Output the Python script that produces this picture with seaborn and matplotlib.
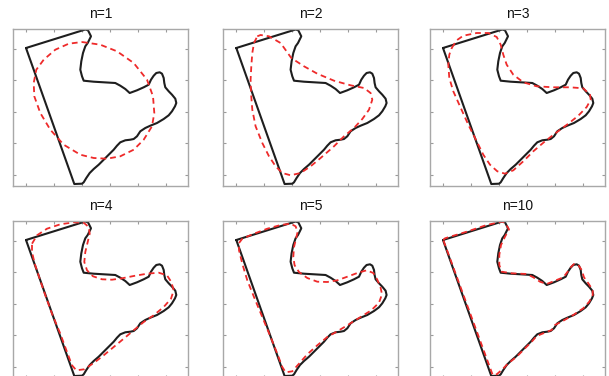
import numpy as np
import pandas as pd
import matplotlib
matplotlib.use("Agg")
import matplotlib.pyplot as plt
import seaborn as sns

# ---------------- data (panel-local coordinates, y downward) ----------------
titles = ["n=1", "n=2", "n=3", "n=4", "n=5", "n=10"]

contour_x = [13, 72.3, 75, 78, 74.7, 72.3, 70, 68.3, 67.3, 69, 70.7, 80.7, 90.7, 102.3,
             107.3, 112.3, 116.7, 124, 130.7, 135.7, 138, 140.7, 143.3, 146.7, 149, 150.7,
             151.3, 152.3, 155.7, 159, 162.3, 163.3, 162, 159, 155.7, 150.7, 144, 137.3,
             132.3, 127.3, 124, 120.7, 117.3, 112.3, 107.3, 104, 100.7, 95.7, 90.7, 85.7,
             80.7, 76.7, 73.3, 70.7, 69, 61.3, 13]
contour_y = [19, 0.5, 1.3, 7.3, 14, 17.3, 24, 32.3, 40.7, 47.3, 51.7, 52.7, 53.3, 54,
             56.7, 60, 64, 61.3, 58.3, 55.7, 50.7, 46.7, 44, 43.3, 44.7, 49,
             54, 58.3, 62.3, 65.7, 69.7, 74, 77.3, 82.3, 86.3, 90, 94, 96.7,
             99, 102.3, 107.3, 110, 110.7, 111.3, 113.3, 116.7, 120.7, 125.7, 130.7, 135.7,
             140, 144, 149, 153.3, 154.7, 155, 19]

n1_x = [69, 87.3, 104, 120.7, 134, 140, 141.3, 139, 130.7, 120.7, 107.3, 94, 80.7, 67.3,
        50.7, 37.3, 27.3, 21.3, 20.7, 23.3, 30.7, 42.3, 55.7, 69]
n1_y = [13, 15.7, 22.3, 34, 50.7, 67.3, 84, 97.3, 110.7, 120.7, 127.3, 129.7, 129, 125.7,
        115.7, 100.7, 84, 67.3, 54, 40.7, 30.7, 20.7, 14.7, 13]

n2_x = [34, 37.3, 45.7, 57.3, 68, 80.7, 94, 110.7, 127.3, 140.7, 147.3, 149, 145.7, 139,
        130.7, 120.7, 110.7, 97.3, 87.3, 77.3, 67.3, 59, 52.3, 45.7, 39, 32.3, 29, 27.7,
        27.3, 28, 29, 30.7, 34]
n2_y = [7.3, 6, 7.3, 14, 29, 37.3, 44.7, 51.7, 56.3, 59, 64, 70.7, 80.7, 90,
        99, 107.3, 117.3, 129, 137.3, 144, 146.3, 144, 137.3, 127.3, 114, 97.3, 80.7, 64,
        50.7, 37.3, 24, 14, 7.3]

n3_x = [21.7, 26.7, 33.3, 46.7, 58.3, 66.7, 70.7, 73.3, 76.7, 83.3, 93.3, 106.7, 123.3, 140,
        153.3, 160, 160.7, 156.7, 148.3, 138.3, 126.7, 115, 103.3, 93.3, 83.3, 75, 67.3, 60,
        53.3, 46.7, 38.3, 30, 23.3, 19.3, 18.3, 19.3, 21.7]
n3_y = [19, 11.3, 6.7, 4, 4, 8, 15.7, 25.7, 35.7, 45.7, 53.3, 57.3, 58.3, 58.3,
        59.3, 65.7, 70.7, 78, 86.7, 94.7, 103.3, 112.3, 122.3, 132.3, 141.3, 144.7, 142.3, 135.7,
        125.7, 112.3, 95.7, 77.3, 62.3, 49, 35.7, 25.7, 19]

n4_x = [19, 24, 34, 47.3, 60.7, 70.7, 75.7, 76.7, 74.7, 72.3, 71.3, 74, 80, 89, 99, 109,
        120.7, 134, 145.7, 154, 158.3, 160.7, 158, 150.7, 140.7, 130.7, 120.7, 110.7, 100.7,
        90.7, 80.7, 71.3, 63.3, 59, 54, 47.3, 39, 32.3, 26.7, 21.7, 19, 19]
n4_y = [22.7, 14.3, 7.7, 3.3, 1.3, 1.7, 6, 12.7, 21, 31, 41, 49.3, 55.3, 58.3, 58.7, 57.3,
        55, 52.7, 51.7, 54.3, 61, 69.3, 77.7, 86, 94.3, 101, 109.3, 117.7, 126,
        134.3, 142, 148.3, 149.3, 144.3, 131, 112.7, 92.7, 74.3, 57.7, 42.7, 31, 22.7]

n5_x = [15.7, 19, 30.7, 44, 57.3, 67.3, 72.3, 74.3, 72.7, 70.7, 70, 71.3, 75.7, 84, 94, 104,
        114, 124, 134, 143.3, 150, 154, 157.3, 158.7, 155.7, 148, 135.7, 124, 114, 104, 94,
        84, 75.7, 69, 62.3, 59, 54, 47.3, 39, 30.7, 24, 19, 15.7, 15.7]
n5_y = [22, 17.7, 12.7, 7.7, 4, 2.7, 5.3, 11, 17.7, 26, 36, 44.3, 51, 57, 60.7, 61,
        59.3, 55.7, 52, 49.3, 52, 58.7, 66.7, 73.3, 81.7, 89.3, 97, 104.3, 110.3, 116, 124.3,
        133.3, 142.7, 150.3, 151.3, 146, 132.7, 116, 96, 76, 59.3, 42.7, 29.3, 22]

n10_x = [13.3, 15, 36.7, 56.7, 71.7, 75, 79, 75, 71, 69.3, 69.3, 71.7, 81.7, 96.7, 103.3,
         110, 116.7, 125, 133.3, 137.7, 140.7, 144, 148.3, 151.7, 154, 158.3, 162.7, 162.7,
         159.3, 153.3, 143.3, 133.3, 125, 121.7, 113.3, 106.7, 101.7, 95, 86.7, 78.3, 71.7,
         66.7, 62.7, 13.3]
n10_y = [19, 17.3, 10.7, 4, 0.7, 1.7, 8.3, 15.7, 24, 34, 44, 50.7, 52.3, 53, 56.3,
         60.7, 63, 59.7, 56.3, 50.7, 46.3, 43, 44, 49, 56.3, 62.3, 69, 74,
         80.7, 87.3, 94, 99.7, 104, 109, 112.3, 115, 120.7, 127.3, 135.7, 142.3, 149,
         153.3, 154, 19]

approx_x = [n1_x, n2_x, n3_x, n4_x, n5_x, n10_x]
approx_y = [n1_y, n2_y, n3_y, n4_y, n5_y, n10_y]

# ---------------- layout ----------------
sns.set_style("white")
plt.rcParams["font.family"] = ["Liberation Sans", "DejaVu Sans"]

W, H = 609, 376
fig = plt.figure(figsize=(W / 100, H / 100), dpi=100)

lefts = [13, 223.3, 430]
tops = [29, 221]
pw, ph = 174.7, 156.7

contour_df = pd.DataFrame({"x": contour_x, "y": contour_y})

for i, title in enumerate(titles):
    r, c = divmod(i, 3)
    l = lefts[c]
    t = tops[r]
    ax = fig.add_axes([l / W, 1 - (t + ph) / H, pw / W, ph / H])
    sns.lineplot(data=contour_df, x="x", y="y", sort=False, estimator=None,
                 color="#1e1e1e", lw=1.5, ax=ax)
    adf = pd.DataFrame({"x": approx_x[i], "y": approx_y[i]})
    sns.lineplot(data=adf, x="x", y="y", sort=False, estimator=None,
                 color="#ee2a2a", lw=1.3, linestyle=(0, (3.2, 2.2)), ax=ax)
    ax.set_xlim(0, pw)
    ax.set_ylim(ph, 0)
    ax.set_xticks([12.5 + 28 * k for k in range(6)])
    ax.set_yticks([19.5 + 31.5 * k for k in range(5)])
    ax.set_xticklabels([])
    ax.set_yticklabels([])
    ax.set_xlabel("")
    ax.set_ylabel("")
    ax.tick_params(direction="in", length=2.5, width=0.8, color="#9a9a9a",
                   top=True, right=True, bottom=True, left=True)
    for sp in ax.spines.values():
        sp.set_visible(True)
        sp.set_color("#a8a8a8")
        sp.set_linewidth(1.0)
    ax.set_title(title, fontsize=10, pad=8, color="#111111")

fig.savefig("out.png", dpi=100)
